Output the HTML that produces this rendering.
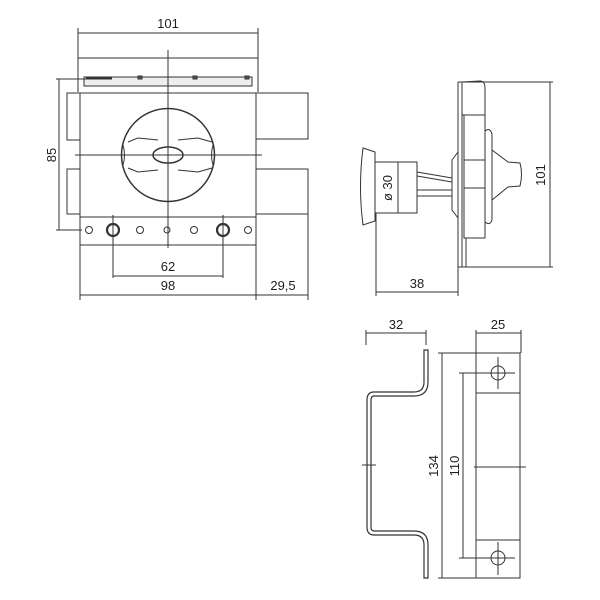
<!DOCTYPE html>
<html><head><meta charset="utf-8"><style>
html,body{margin:0;padding:0;background:#fff;}
svg{display:block;}
text{font-family:"Liberation Sans",sans-serif;font-size:13px;fill:#222;}
</style></head><body>
<svg width="600" height="600" viewBox="0 0 600 600" xmlns="http://www.w3.org/2000/svg">
<g stroke="#333" stroke-width="1" fill="none">
<line x1="78" y1="33" x2="258" y2="33"/>
<line x1="78" y1="28" x2="78" y2="92"/>
<line x1="258" y1="28" x2="258" y2="92"/>
<line x1="78" y1="58" x2="258" y2="58"/>
<rect x="84" y="77" width="168" height="9" fill="#eee"/>
<line x1="86" y1="78.5" x2="112" y2="78.5" stroke-width="2"/>
<rect x="138" y="76" width="4" height="3" fill="#555"/>
<rect x="193" y="76" width="4" height="3" fill="#555"/>
<rect x="245" y="76" width="4" height="3" fill="#555"/>
<rect x="80" y="93" width="176" height="152"/>
<line x1="80" y1="217" x2="256" y2="217"/>
<rect x="67" y="93" width="13" height="47"/>
<rect x="67" y="169" width="13" height="45"/>
<rect x="256" y="93" width="52" height="46"/>
<rect x="256" y="169" width="52" height="45"/>
<line x1="256" y1="245" x2="256" y2="300"/>
<line x1="308" y1="214" x2="308" y2="300"/>
<line x1="80" y1="245" x2="80" y2="300"/>
<circle cx="168" cy="155" r="46.5" stroke-width="1.5"/>
<path d="M128 142 L138 138 L158 140 M178 140 L198 138 L212 142 M128 168 L138 172 L158 170 M178 170 L198 172 L212 168"/>
<path d="M123 145 Q126 155 123 165 M213 145 Q210 155 213 165"/>
<ellipse cx="168" cy="155" rx="15" ry="8" stroke-width="1.5"/>
<line x1="168" y1="50" x2="168" y2="248"/>
<line x1="75" y1="155" x2="262" y2="155"/>
<line x1="59" y1="79" x2="59" y2="230"/>
<line x1="56" y1="79" x2="86" y2="79"/>
<line x1="56" y1="230" x2="82" y2="230"/>
<circle cx="89" cy="230" r="3.5"/>
<circle cx="140" cy="230" r="3.5"/>
<circle cx="167" cy="230" r="3"/>
<circle cx="194" cy="230" r="3.5"/>
<circle cx="248" cy="230" r="3.5"/>
<circle cx="113" cy="230" r="6" stroke-width="2.2"/>
<circle cx="223" cy="230" r="6" stroke-width="2.2"/>
<line x1="113" y1="215" x2="113" y2="278"/>
<line x1="223" y1="215" x2="223" y2="278"/>
<line x1="113" y1="276" x2="223" y2="276"/>
<line x1="80" y1="295" x2="308" y2="295"/>

<path d="M363 148 L375 152 L375 221 L363 225 Q358 187 363 148 Z"/>
<rect x="375" y="162" width="42" height="51"/>
<line x1="398" y1="162" x2="398" y2="213"/>
<line x1="376" y1="213" x2="376" y2="296"/>
<path d="M417 172 L452 178 M417 176 L452 182 M417 190 L452 190 M417 196 L452 196"/>
<path d="M458 152 L452 160 L452 210 L458 218"/>
<line x1="458" y1="82" x2="458" y2="267"/>
<line x1="462" y1="82" x2="462" y2="267"/>
<line x1="466" y1="238" x2="466" y2="267"/>
<path d="M462 82 L480 81 Q485 81 485 88 L485 115 L462 115"/>
<rect x="464" y="115" width="21" height="123"/>
<line x1="464" y1="160" x2="485" y2="160"/>
<line x1="464" y1="188" x2="485" y2="188"/>
<path d="M485 131 Q490 127 492 134 L492 220 Q490 226 485 222 Z"/>
<path d="M492 150 L508 162 L520 163 Q523 174 520 186 L508 187 L492 200"/>
<line x1="458" y1="82" x2="553" y2="82"/>
<line x1="458" y1="267" x2="553" y2="267"/>
<line x1="550" y1="82" x2="550" y2="267"/>
<line x1="376" y1="292" x2="458" y2="292"/>
<line x1="458" y1="267" x2="458" y2="296"/>

<line x1="366" y1="330" x2="366" y2="345"/>
<line x1="426" y1="330" x2="426" y2="345"/>
<line x1="366" y1="333" x2="426" y2="333"/>
<path d="M424 350 L424 382 Q424 392 414 392 L374 392 Q367 392 367 400 L367 527 Q367 535 374 535 L414 535 Q424 535 424 545 L424 578 L428 578 L428 545 Q428 531 414 531 L374 531 Q371 531 371 527 L371 400 Q371 396 374 396 L414 396 Q428 396 428 382 L428 350 Z" stroke-width="1.2"/>
<line x1="362" y1="465" x2="376" y2="465"/>
<line x1="442" y1="353" x2="442" y2="578"/>
<line x1="438" y1="353" x2="520" y2="353"/>
<line x1="438" y1="578" x2="520" y2="578"/>
<line x1="463" y1="373" x2="463" y2="558"/>
<line x1="459" y1="373" x2="515" y2="373"/>
<line x1="459" y1="558" x2="515" y2="558"/>
<rect x="476" y="353" width="44" height="225"/>
<line x1="476" y1="393" x2="520" y2="393"/>
<line x1="476" y1="540" x2="520" y2="540"/>
<line x1="476" y1="333" x2="521" y2="333"/>
<line x1="476" y1="330" x2="476" y2="353"/>
<line x1="521" y1="330" x2="521" y2="353"/>
<circle cx="498" cy="373" r="7"/>
<circle cx="498" cy="558" r="7"/>
<line x1="498" y1="357" x2="498" y2="389"/>
<line x1="498" y1="542" x2="498" y2="575"/>
<line x1="474" y1="467" x2="526" y2="467"/>
</g>
<text x="168" y="28" text-anchor="middle">101</text>
<text x="0" y="0" text-anchor="middle" transform="translate(56,155) rotate(-90)">85</text>
<text x="168" y="271" text-anchor="middle">62</text>
<text x="168" y="290" text-anchor="middle">98</text>
<text x="283" y="290" text-anchor="middle">29,5</text>
<text x="0" y="0" text-anchor="middle" transform="translate(392,188) rotate(-90)">ø 30</text>
<text x="417" y="288" text-anchor="middle">38</text>
<text x="0" y="0" text-anchor="middle" transform="translate(545,175) rotate(-90)">101</text>
<text x="396" y="329" text-anchor="middle">32</text>
<text x="498" y="329" text-anchor="middle">25</text>
<text x="0" y="0" text-anchor="middle" transform="translate(438,466) rotate(-90)">134</text>
<text x="0" y="0" text-anchor="middle" transform="translate(459,466) rotate(-90)">110</text>
</svg>
</body></html>
